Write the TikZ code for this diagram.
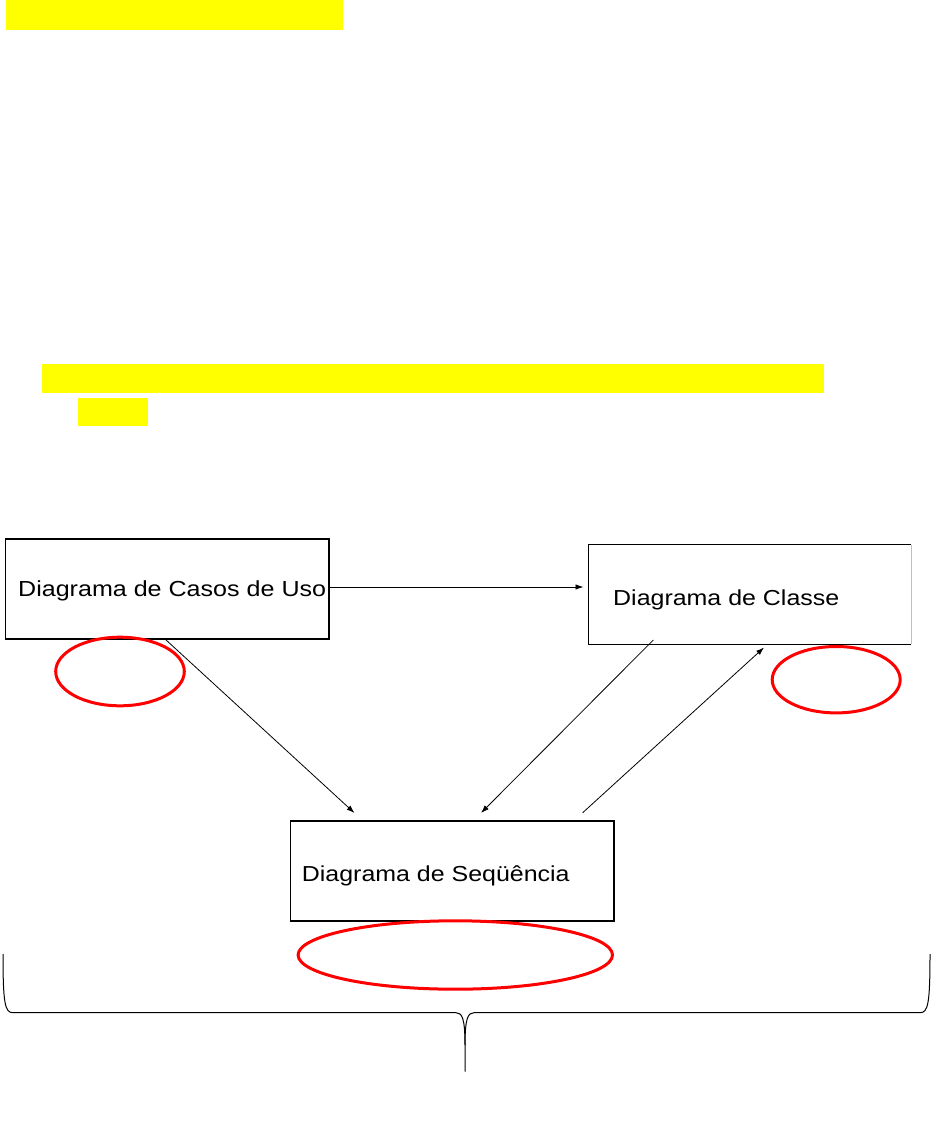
\documentclass[tikz,border=0pt]{standalone}
\usepackage{fontspec}
\setmainfont{Liberation Sans}
\newfontfamily\arialw[FakeStretch=1.15]{Liberation Sans}
\usetikzlibrary{arrows.meta}
\begin{document}
\begin{tikzpicture}[x=1pt,y=-1pt,
  hl/.style={fill={rgb,255:red,255;green,255;blue,0}, draw=none},
  boxframe/.style={draw=black, line width=1.1pt},
  lbl/.style={anchor=base west, inner sep=0pt, font=\arialw\fontsize{21.7}{26}\selectfont},
  conn/.style={line width=0.8pt, -{Latex[length=8pt,width=5.5pt]}},
  oval/.style={draw={rgb,255:red,255;green,0;blue,0}, line width=3pt},
  brace/.style={draw=black, line width=1pt}]
\useasboundingbox (0,0) rectangle (932,1124);
% yellow highlight bars
\fill[hl] (6,0) rectangle (343,30);
\fill[hl] (42,364) rectangle (824,393);
\fill[hl] (78,398) rectangle (148,426);
% boxes
\draw[boxframe] (5.5,539) rectangle (329,639);
\node[lbl, font=\arialw\fontsize{21.8}{26}\selectfont] (tcasos) at (18,596.7) {Diagrama de Casos de Uso};
\coordinate (casosR) at (329,587);
\coordinate (casosB) at (165,639);
\draw[boxframe] (911,544.7) -- (588.3,544.7) -- (588.3,644.3) -- (911,644.3);
\draw[black!25, line width=0.8pt] (911,544.7) -- (911,644.3);
\node[lbl] (tclasse) at (613,605.3) {Diagrama de Classe};
\coordinate (classeL) at (583.5,587);
\coordinate (classeB1) at (653.3,640);
\coordinate (classeB2) at (764,647.5);
\draw[boxframe] (290.7,821) rectangle (614,921);
\node[lbl] (tseq) at (301.7,881.7) {Diagrama de Seqüência};
\coordinate (seqT1) at (354.5,813);
\coordinate (seqT2) at (481,813);
\coordinate (seqT3) at (582.7,812.7);
% connectors
\draw[conn] (casosR) -- (classeL);
\draw[conn] (casosB) -- (seqT1);
\draw[conn] (classeB1) -- (seqT2);
\draw[conn] (seqT3) -- (classeB2);
% red ovals
\draw[oval] (120,671.5) ellipse [x radius=64.3, y radius=34.3];
\draw[oval] (836.2,679.7) ellipse [x radius=64, y radius=33.2];
\draw[oval] (455.3,955) ellipse [x radius=157.2, y radius=34.2];
% brace
\draw[brace] (3,954) .. controls (3,1004) and (5,1012.7) .. (13,1012.7)
  -- (456,1012.7) .. controls (462,1012.7) and (465,1018) .. (465,1045) -- (465,1071.7);
\draw[brace] (465,1045) .. controls (465,1018) and (468,1012.7) .. (474,1012.7)
  -- (920,1012.7) .. controls (928,1012.7) and (930,1004) .. (930,954);
\end{tikzpicture}
\end{document}
